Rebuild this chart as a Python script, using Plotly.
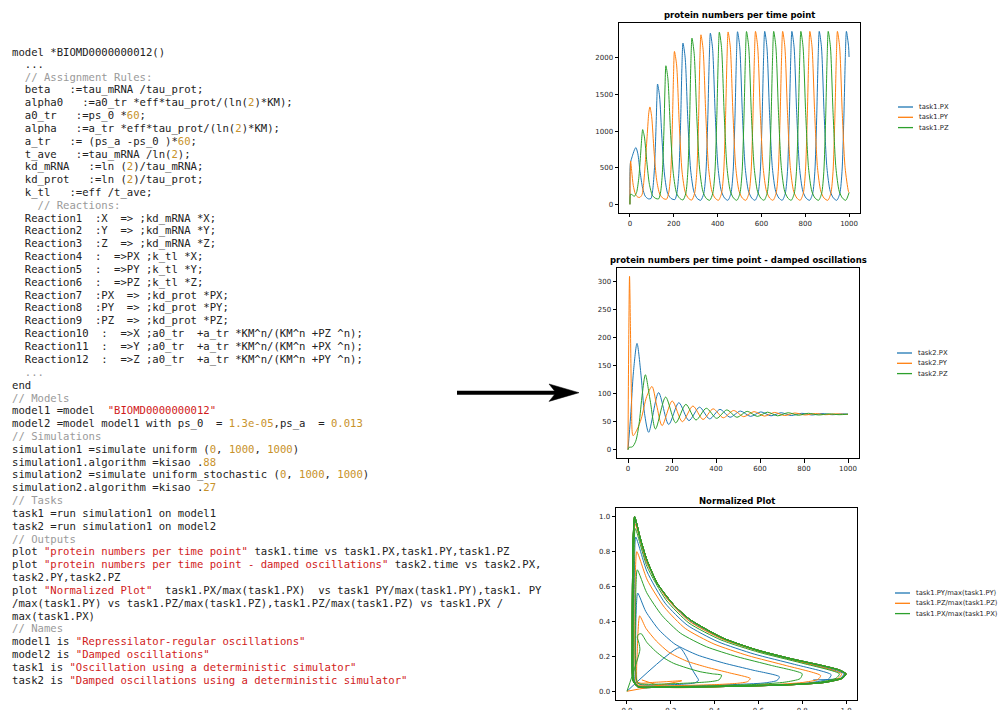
import plotly.graph_objects as go

# ---------------- data: task1 (regular oscillations) ----------------
T1_PX = [0, 2, 10, 20, 27, 36, 46, 58, 70, 84,
         96, 104, 112, 119, 123, 126, 135, 146, 158, 172, 188,
         205, 214, 223, 231, 237, 242, 252, 264, 277, 292, 307,
         323, 337, 347, 355, 362, 367, 377, 389, 402, 417, 432,
         447, 461, 471, 479, 486, 491, 501, 513, 526, 541, 556,
         571, 585, 595, 603, 610, 615, 625, 637, 650, 665, 680,
         695, 709, 719, 727, 734, 739, 749, 761, 774, 789, 804,
         820, 834, 844, 852, 859, 864, 874, 886, 899, 914, 929,
         944, 958, 968, 976, 983, 988, 998, 1000]
V1_PX = [0, 560, 650, 740, 775, 690, 450, 220, 110, 75,
         80, 200, 500, 1050, 1450, 1642, 1480, 900, 400, 150, 80,
         65, 150, 420, 1080, 1850, 2200, 2000, 1160, 470, 170, 80,
         55, 150, 450, 1140, 1980, 2336, 2130, 1240, 500, 180, 85,
         55, 150, 450, 1150, 2000, 2355, 2150, 1250, 500, 180, 85,
         55, 150, 450, 1150, 2000, 2360, 2150, 1250, 500, 180, 85,
         55, 150, 450, 1150, 2000, 2360, 2150, 1250, 500, 180, 85,
         55, 150, 450, 1150, 2000, 2360, 2150, 1250, 500, 180, 85,
         55, 150, 450, 1150, 2000, 2360, 2150, 2010]

T1_PY = [0, 3, 8, 15, 25, 35, 45, 55, 63, 72, 80, 86, 91, 99, 110, 122, 136, 152,
         167, 177, 186, 193, 199, 203, 213, 225, 238, 253, 268,
         282, 295, 305, 313, 319, 324, 334, 346, 359, 374, 389,
         404, 418, 428, 436, 443, 448, 458, 470, 483, 498, 513,
         529, 543, 553, 561, 568, 573, 583, 595, 608, 623, 638,
         653, 667, 677, 685, 692, 697, 707, 719, 732, 747, 762,
         777, 791, 801, 809, 816, 821, 831, 843, 856, 871, 886,
         903, 917, 927, 935, 942, 947, 957, 969, 982, 997, 1000]
V1_PY = [0, 590, 450, 260, 140, 100, 95, 130, 300, 650, 1000, 1250, 1329, 1200, 720, 330, 140, 80,
         70, 160, 420, 1020, 1770, 2086, 1900, 1100, 440, 160, 80,
         58, 150, 440, 1130, 1960, 2313, 2110, 1230, 490, 177, 84,
         55, 150, 450, 1146, 1993, 2352, 2145, 1245, 500, 180, 85,
         55, 150, 450, 1150, 2000, 2360, 2150, 1250, 500, 180, 85,
         55, 150, 450, 1150, 2000, 2360, 2150, 1250, 500, 180, 85,
         55, 150, 450, 1150, 2000, 2360, 2150, 1250, 500, 180, 85,
         55, 150, 450, 1150, 2000, 2360, 2150, 1250, 500, 180, 160]

T1_PZ = [0, 3, 10, 20, 30, 40, 49, 55, 58, 66, 77, 89, 103, 118,
         131, 140, 148, 155, 160, 164, 173, 185, 198, 213, 228,
         242, 255, 264, 272, 278, 283, 293, 305, 318, 333, 348,
         364, 378, 388, 396, 403, 408, 418, 430, 443, 458, 473,
         488, 502, 512, 520, 527, 532, 542, 554, 567, 582, 597,
         612, 626, 636, 644, 651, 656, 666, 678, 691, 706, 721,
         736, 750, 760, 768, 775, 780, 790, 802, 815, 830, 845,
         861, 875, 885, 893, 900, 905, 915, 927, 940, 955, 970,
         985, 1000]
V1_PZ = [0, 140, 130, 110, 160, 350, 700, 950, 1020, 920, 580, 270, 120, 80,
         75, 170, 430, 1000, 1600, 1891, 1720, 1000, 420, 150, 80,
         60, 150, 440, 1110, 1920, 2268, 2060, 1200, 480, 175, 82,
         55, 150, 450, 1145, 1990, 2349, 2140, 1245, 500, 180, 85,
         55, 150, 450, 1150, 2000, 2358, 2150, 1250, 500, 180, 85,
         55, 150, 450, 1150, 2000, 2360, 2150, 1250, 500, 180, 85,
         55, 150, 450, 1150, 2000, 2360, 2150, 1250, 500, 180, 85,
         55, 150, 450, 1150, 2000, 2360, 2150, 1250, 500, 180, 85,
         55, 160]

# ---------------- data: task2 (damped oscillations) ----------------
T2_PX = [0, 12, 25, 41, 60, 75, 94, 139, 185, 231, 277, 325, 371, 418, 464, 511, 557,
         604, 650, 696, 742, 790, 836, 882, 928, 976, 1000]
V2_PX = [0, 60, 140, 190, 130, 65, 31, 102, 45, 84, 52, 76, 55, 72, 58, 69, 59.5,
         67.5, 60.5, 66, 61, 65, 62, 64.5, 62.5, 64, 63.5]
T2_PY = [0, 3, 7, 11, 16, 23, 40, 60, 85, 109, 130, 155, 201, 247, 295, 341, 387, 433,
         480, 526, 573, 620, 666, 712, 758, 804, 852, 898, 944, 990, 1000]
V2_PY = [0, 180, 310, 220, 90, 25, 35, 55, 95, 113, 80, 43, 87, 50, 78, 54, 73, 57,
         70, 59, 68, 60, 66.5, 61, 65.5, 62, 64.5, 62.5, 64, 63, 63]
T2_PZ = [0, 5, 20, 35, 50, 65, 79, 100, 125, 171, 217, 263, 309, 356, 403, 449, 495,
         542, 588, 634, 680, 728, 774, 820, 866, 914, 960, 1000]
V2_PZ = [0, 4, 5, 15, 45, 100, 134, 90, 37, 94, 48, 81, 53, 74, 56, 71, 58,
         68.5, 59.5, 67, 60.5, 66, 61.5, 65, 62, 64, 62.5, 63.5]

# ---------------- data: normalized phase plot ----------------
# limit-cycle loops (top -> right tip -> bottom -> left edge)
LC_X = [0.035, 0.06, 0.09, 0.137, 0.213, 0.289, 0.44, 0.593, 0.745, 0.897, 0.97, 1.0,
        0.985, 0.9, 0.745, 0.44, 0.137, 0.05, 0.028, 0.024, 0.025, 0.028]
LC_Y = [1.0, 0.88, 0.756, 0.62, 0.496, 0.41, 0.304, 0.237, 0.188, 0.146, 0.122, 0.10,
        0.075, 0.05, 0.037, 0.027, 0.022, 0.025, 0.06, 0.3, 0.6, 0.87]
LC2_X = [0.036, 0.062, 0.092, 0.14, 0.216, 0.292, 0.443, 0.596, 0.748, 0.9, 0.968, 0.996,
         0.982, 0.898, 0.745, 0.44, 0.14, 0.052, 0.03, 0.026, 0.027, 0.03]
LC2_Y = [0.994, 0.872, 0.75, 0.616, 0.492, 0.406, 0.301, 0.234, 0.185, 0.143, 0.12, 0.1,
         0.077, 0.052, 0.039, 0.029, 0.024, 0.027, 0.062, 0.3, 0.6, 0.865]

BLUE_TR_X = [0, 0.24, 0.27, 0.30, 0.32, 0.327, 0.31, 0.25, 0.15, 0.07, 0.045, 0.04, 0.04, 0.043,
             0.049, 0.086, 0.146, 0.219, 0.321, 0.441, 0.575, 0.696, 0.685, 0.63, 0.52, 0.32, 0.12, 0.05, 0.035, 0.032, 0.033, 0.035,
             0.04, 0.091, 0.174, 0.275, 0.415, 0.581, 0.765, 0.932, 0.92, 0.84, 0.7, 0.42, 0.14, 0.05, 0.03, 0.026, 0.027, 0.03,
             0.035, 0.089, 0.178, 0.286, 0.436, 0.614, 0.811, 0.99, 0.975, 0.89, 0.74, 0.44, 0.137, 0.05, 0.028, 0.024, 0.025, 0.028]
BLUE_TR_Y = [0, 0.25, 0.2, 0.12, 0.08, 0.063, 0.048, 0.04, 0.036, 0.036, 0.05, 0.17, 0.34, 0.49,
             0.563, 0.457, 0.352, 0.27, 0.208, 0.162, 0.121, 0.083, 0.062, 0.048, 0.04, 0.032, 0.029, 0.032, 0.06, 0.27, 0.53, 0.77,
             0.884, 0.687, 0.505, 0.379, 0.284, 0.213, 0.154, 0.095, 0.07, 0.05, 0.038, 0.028, 0.024, 0.027, 0.06, 0.29, 0.59, 0.85,
             0.98, 0.742, 0.54, 0.403, 0.3, 0.227, 0.163, 0.1, 0.075, 0.05, 0.037, 0.027, 0.022, 0.025, 0.06, 0.3, 0.6, 0.87]
BLUE_END_X = [0.035, 0.06, 0.09, 0.137, 0.213, 0.289, 0.44, 0.593, 0.745, 0.897, 0.97, 1.0, 0.985, 0.85]
BLUE_END_Y = [1.0, 0.88, 0.756, 0.62, 0.496, 0.41, 0.304, 0.237, 0.188, 0.146, 0.122, 0.10, 0.076, 0.065]

ORANGE_TR_X = [0, 0.25, 0.18, 0.11, 0.065, 0.047, 0.044, 0.047, 0.05,
               0.058, 0.087, 0.134, 0.191, 0.27, 0.364, 0.469, 0.563, 0.55, 0.5, 0.4, 0.25, 0.1, 0.05, 0.04, 0.036, 0.037, 0.039,
               0.045, 0.093, 0.171, 0.266, 0.397, 0.553, 0.727, 0.884, 0.872, 0.8, 0.66, 0.4, 0.13, 0.05, 0.032, 0.028, 0.029, 0.032,
               0.037, 0.091, 0.178, 0.285, 0.433, 0.608, 0.804, 0.98, 0.965, 0.88, 0.735, 0.44, 0.137, 0.05, 0.028, 0.024, 0.025, 0.028]
ORANGE_TR_Y = [0, 0.06, 0.055, 0.05, 0.046, 0.055, 0.12, 0.22, 0.33,
               0.432, 0.36, 0.288, 0.224, 0.174, 0.138, 0.105, 0.073, 0.055, 0.045, 0.038, 0.033, 0.03, 0.035, 0.07, 0.25, 0.48, 0.7,
               0.80, 0.637, 0.481, 0.36, 0.271, 0.204, 0.147, 0.09, 0.068, 0.05, 0.038, 0.029, 0.025, 0.028, 0.06, 0.28, 0.57, 0.83,
               0.96, 0.736, 0.539, 0.401, 0.3, 0.227, 0.164, 0.1, 0.075, 0.05, 0.037, 0.027, 0.022, 0.025, 0.06, 0.3, 0.6, 0.87]
ORANGE_END_X = [0.035, 0.06, 0.09, 0.137, 0.213, 0.289, 0.44, 0.593, 0.745, 0.897, 0.97, 1.0, 0.985, 0.9, 0.745, 0.44, 0.18, 0.068]
ORANGE_END_Y = [1.0, 0.88, 0.756, 0.62, 0.496, 0.41, 0.304, 0.237, 0.188, 0.146, 0.122, 0.10, 0.075, 0.05, 0.037, 0.027, 0.023, 0.065]

GREEN_TR_X = [0, 0.059, 0.055, 0.047, 0.052,
              0.065, 0.091, 0.13, 0.17, 0.213, 0.27, 0.334, 0.39, 0.432, 0.42, 0.38, 0.3, 0.18, 0.08, 0.05, 0.042, 0.038, 0.039, 0.041,
              0.047, 0.09, 0.16, 0.245, 0.363, 0.503, 0.659, 0.80, 0.79, 0.72, 0.6, 0.36, 0.12, 0.05, 0.033, 0.029, 0.03, 0.033,
              0.038, 0.091, 0.178, 0.283, 0.429, 0.603, 0.796, 0.97, 0.955, 0.87, 0.73, 0.44, 0.137, 0.05, 0.028, 0.024, 0.025, 0.028]
GREEN_TR_Y = [0, 0.237, 0.275, 0.31, 0.325,
              0.33, 0.28, 0.23, 0.19, 0.16, 0.135, 0.112, 0.1, 0.092, 0.065, 0.055, 0.048, 0.042, 0.04, 0.045, 0.08, 0.22, 0.42, 0.6,
              0.696, 0.565, 0.434, 0.332, 0.255, 0.198, 0.148, 0.1, 0.072, 0.052, 0.04, 0.03, 0.026, 0.029, 0.06, 0.28, 0.56, 0.81,
              0.932, 0.716, 0.524, 0.391, 0.294, 0.223, 0.162, 0.1, 0.075, 0.05, 0.037, 0.027, 0.022, 0.025, 0.06, 0.3, 0.6, 0.87]
GREEN_END_X = [0.035, 0.062]
GREEN_END_Y = [1.0, 0.86]

NORM_BLUE_X = BLUE_TR_X + LC_X + LC2_X + LC_X + LC2_X + BLUE_END_X
NORM_BLUE_Y = BLUE_TR_Y + LC_Y + LC2_Y + LC_Y + LC2_Y + BLUE_END_Y
NORM_ORANGE_X = ORANGE_TR_X + LC2_X + LC_X + LC2_X + LC_X + ORANGE_END_X
NORM_ORANGE_Y = ORANGE_TR_Y + LC2_Y + LC_Y + LC2_Y + LC_Y + ORANGE_END_Y
NORM_GREEN_X = GREEN_TR_X + LC_X + LC2_X + LC_X + LC2_X + LC_X + GREEN_END_X
NORM_GREEN_Y = GREEN_TR_Y + LC_Y + LC2_Y + LC_Y + LC2_Y + LC_Y + GREEN_END_Y

# ---------------- text ----------------
TITLES = ["protein numbers per time point",
          "protein numbers per time point - damped oscillations",
          "Normalized Plot"]
LEGENDS = [["task1.PX", "task1.PY", "task1.PZ"],
           ["task2.PX", "task2.PY", "task2.PZ"],
           ["task1.PY/max(task1.PY)", "task1.PZ/max(task1.PZ)", "task1.PX/max(task1.PX)"]]

CODE_LINES = [
    [("model *BIOMD0000000012()", "t")],
    [("  ...", "t")],
    [("  // Assignment Rules:", "c")],
    [("  beta   :=tau_mRNA /tau_prot;", "t")],
    [("  alpha0   :=a0_tr *eff*tau_prot/(ln(", "t"), ("2", "n"), (")*KM);", "t")],
    [("  a0_tr   :=ps_0 *", "t"), ("60", "n"), (";", "t")],
    [("  alpha   :=a_tr *eff*tau_prot/(ln(", "t"), ("2", "n"), (")*KM);", "t")],
    [("  a_tr   := (ps_a -ps_0 )*", "t"), ("60", "n"), (";", "t")],
    [("  t_ave   :=tau_mRNA /ln(", "t"), ("2", "n"), (");", "t")],
    [("  kd_mRNA   :=ln (", "t"), ("2", "n"), (")/tau_mRNA;", "t")],
    [("  kd_prot   :=ln (", "t"), ("2", "n"), (")/tau_prot;", "t")],
    [("  k_tl   :=eff /t_ave;", "t")],
    [("    // Reactions:", "c")],
    [("  Reaction1  :X  => ;kd_mRNA *X;", "t")],
    [("  Reaction2  :Y  => ;kd_mRNA *Y;", "t")],
    [("  Reaction3  :Z  => ;kd_mRNA *Z;", "t")],
    [("  Reaction4  :  =>PX ;k_tl *X;", "t")],
    [("  Reaction5  :  =>PY ;k_tl *Y;", "t")],
    [("  Reaction6  :  =>PZ ;k_tl *Z;", "t")],
    [("  Reaction7  :PX  => ;kd_prot *PX;", "t")],
    [("  Reaction8  :PY  => ;kd_prot *PY;", "t")],
    [("  Reaction9  :PZ  => ;kd_prot *PZ;", "t")],
    [("  Reaction10  :  =>X ;a0_tr  +a_tr *KM^n/(KM^n +PZ ^n);", "t")],
    [("  Reaction11  :  =>Y ;a0_tr  +a_tr *KM^n/(KM^n +PX ^n);", "t")],
    [("  Reaction12  :  =>Z ;a0_tr  +a_tr *KM^n/(KM^n +PY ^n);", "t")],
    [("  ...", "c")],
    [("end", "t")],
    [("// Models", "c")],
    [("model1 =model  ", "t"), ('"BIOMD0000000012"', "s")],
    [("model2 =model model1 with ps_0  = ", "t"), ("1.3e-05", "n"), (",ps_a  = ", "t"), ("0.013", "n")],
    [("// Simulations", "c")],
    [("simulation1 =simulate uniform (", "t"), ("0", "n"), (", ", "t"), ("1000", "n"), (", ", "t"), ("1000", "n"), (")", "t")],
    [("simulation1.algorithm =kisao .", "t"), ("88", "n")],
    [("simulation2 =simulate uniform_stochastic (", "t"), ("0", "n"), (", ", "t"), ("1000", "n"), (", ", "t"), ("1000", "n"), (")", "t")],
    [("simulation2.algorithm =kisao .", "t"), ("27", "n")],
    [("// Tasks", "c")],
    [("task1 =run simulation1 on model1", "t")],
    [("task2 =run simulation1 on model2", "t")],
    [("// Outputs", "c")],
    [("plot ", "t"), ('"protein numbers per time point"', "s"), (" task1.time vs task1.PX,task1.PY,task1.PZ", "t")],
    [("plot ", "t"), ('"protein numbers per time point - damped oscillations"', "s"), (" task2.time vs task2.PX,", "t")],
    [("task2.PY,task2.PZ", "t")],
    [("plot ", "t"), ('"Normalized Plot"', "s"), ("  task1.PX/max(task1.PX)  vs task1 PY/max(task1.PY),task1. PY", "t")],
    [("/max(task1.PY) vs task1.PZ/max(task1.PZ),task1.PZ/max(task1.PZ) vs task1.PX /", "t")],
    [("max(task1.PX)", "t")],
    [("// Names", "c")],
    [("model1 is ", "t"), ('"Repressilator-regular oscillations"', "s")],
    [("model2 is ", "t"), ('"Damped oscillations"', "s")],
    [("task1 is ", "t"), ('"Oscillation using a deterministic simulator"', "s")],
    [("task2 is ", "t"), ('"Damped oscillations using a deterministic simulator"', "s")],
]

# ---------------- styling ----------------
W, H = 1000, 710
COLORS = ["#1f77b4", "#ff7f0e", "#2ca02c"]
TOKEN_COLORS = {"t": "#222222", "c": "#9a9a9a", "s": "#d11a1a", "n": "#c8922a"}
TICKFONT = dict(family="DejaVu Sans", size=7, color="#262626")
LEGFONT = dict(family="DejaVu Sans", size=6.8, color="#262626")


def fx(x):
    return x / W


def fy(y):
    return 1 - y / H


def axis(domain, rng, dtick, anchor, fmt=None):
    d = dict(domain=domain, range=rng, dtick=dtick, tick0=0, anchor=anchor,
             showline=True, linecolor="black", linewidth=0.8, mirror=True,
             ticks="outside", ticklen=3.5, tickwidth=0.8, tickcolor="black",
             showgrid=False, zeroline=False, tickfont=TICKFONT, automargin=False,
             fixedrange=True)
    if fmt:
        d["tickformat"] = fmt
    return d


fig = go.Figure()

series1 = [(T1_PX, V1_PX, "task1.PX"), (T1_PY, V1_PY, "task1.PY"), (T1_PZ, V1_PZ, "task1.PZ")]
for (t, v, name), c in zip(series1, COLORS):
    fig.add_trace(go.Scatter(x=t, y=v, name=name, mode="lines", xaxis="x", yaxis="y",
                             line=dict(color=c, width=1, shape="spline", smoothing=0.7),
                             showlegend=False))

series2 = [(T2_PX, V2_PX, "task2.PX"), (T2_PY, V2_PY, "task2.PY"), (T2_PZ, V2_PZ, "task2.PZ")]
for (t, v, name), c in zip(series2, COLORS):
    fig.add_trace(go.Scatter(x=t, y=v, name=name, mode="lines", xaxis="x2", yaxis="y2",
                             line=dict(color=c, width=1, shape="spline", smoothing=0.8),
                             showlegend=False))

series3 = [(NORM_BLUE_X, NORM_BLUE_Y), (NORM_ORANGE_X, NORM_ORANGE_Y), (NORM_GREEN_X, NORM_GREEN_Y)]
for (x, y), c, name in zip(series3, COLORS, LEGENDS[2]):
    fig.add_trace(go.Scatter(x=x, y=y, name=name, mode="lines", xaxis="x3", yaxis="y3",
                             line=dict(color=c, width=1, shape="spline", smoothing=0.6),
                             showlegend=False))

annotations = []
shapes = []

# code listing
for i, segs in enumerate(CODE_LINES):
    html = ""
    for text, kind in segs:
        t = text.replace(" ", "\u00a0")
        html += '<span style="color:%s">%s</span>' % (TOKEN_COLORS[kind], t)
    annotations.append(dict(text=html, xref="paper", yref="paper", x=fx(9.5), y=fy(51.5 + 12.82 * i),
                            xanchor="left", yanchor="middle", showarrow=False, align="left",
                            font=dict(family="DejaVu Sans Mono", size=10.6, color="#222222")))

# subplot titles
for title, (cx, cy) in zip(TITLES, [(739.5, 15), (738.5, 260), (736.5, 501)]):
    annotations.append(dict(text="<b>%s</b>" % title, xref="paper", yref="paper", x=fx(cx), y=fy(cy),
                            xanchor="center", yanchor="middle", showarrow=False,
                            font=dict(family="DejaVu Sans", size=8.5, color="black")))

# legends (drawn manually)
legend_pos = [(898, 107), (897, 353), (895, 593)]
for names, (lx, ly) in zip(LEGENDS, legend_pos):
    for k, (name, c) in enumerate(zip(names, COLORS)):
        yy = ly + 10.3 * k
        shapes.append(dict(type="line", xref="paper", yref="paper", x0=fx(lx), x1=fx(lx + 15),
                           y0=fy(yy), y1=fy(yy), line=dict(color=c, width=1.3)))
        annotations.append(dict(text=name, xref="paper", yref="paper", x=fx(lx + 19), y=fy(yy),
                                xanchor="left", yanchor="middle", showarrow=False,
                                font=LEGFONT))

# arrow
ay = 392.7
shapes.append(dict(type="line", xref="paper", yref="paper", x0=fx(457), x1=fx(556), y0=fy(ay), y1=fy(ay),
                   line=dict(color="black", width=4)))
shapes.append(dict(type="path", xref="paper", yref="paper",
                   path="M %f,%f L %f,%f L %f,%f L %f,%f Z" % (fx(579), fy(ay), fx(549), fy(ay - 8.7),
                                                              fx(556), fy(ay), fx(549), fy(ay + 8.7)),
                   fillcolor="black", line=dict(color="black", width=0.5)))

fig.update_layout(
    template="none",
    width=W, height=H,
    margin=dict(l=0, r=0, t=0, b=0),
    paper_bgcolor="white", plot_bgcolor="white",
    showlegend=False,
    xaxis=axis([0.619, 0.860], [-50, 1050], 200, "y"),
    yaxis=axis([0.700, 0.968], [-118, 2478], 500, "x"),
    xaxis2=axis([0.617, 0.859], [-50, 1050], 200, "y2"),
    yaxis2=axis([0.3545, 0.623], [-15.5, 325.5], 50, "x2"),
    xaxis3=axis([0.616, 0.857], [-0.05, 1.05], 0.2, "y3", ".1f"),
    yaxis3=axis([0.0141, 0.2845], [-0.05, 1.05], 0.2, "x3", ".1f"),
    annotations=annotations,
    shapes=shapes,
)

fig.write_html("out.html")
